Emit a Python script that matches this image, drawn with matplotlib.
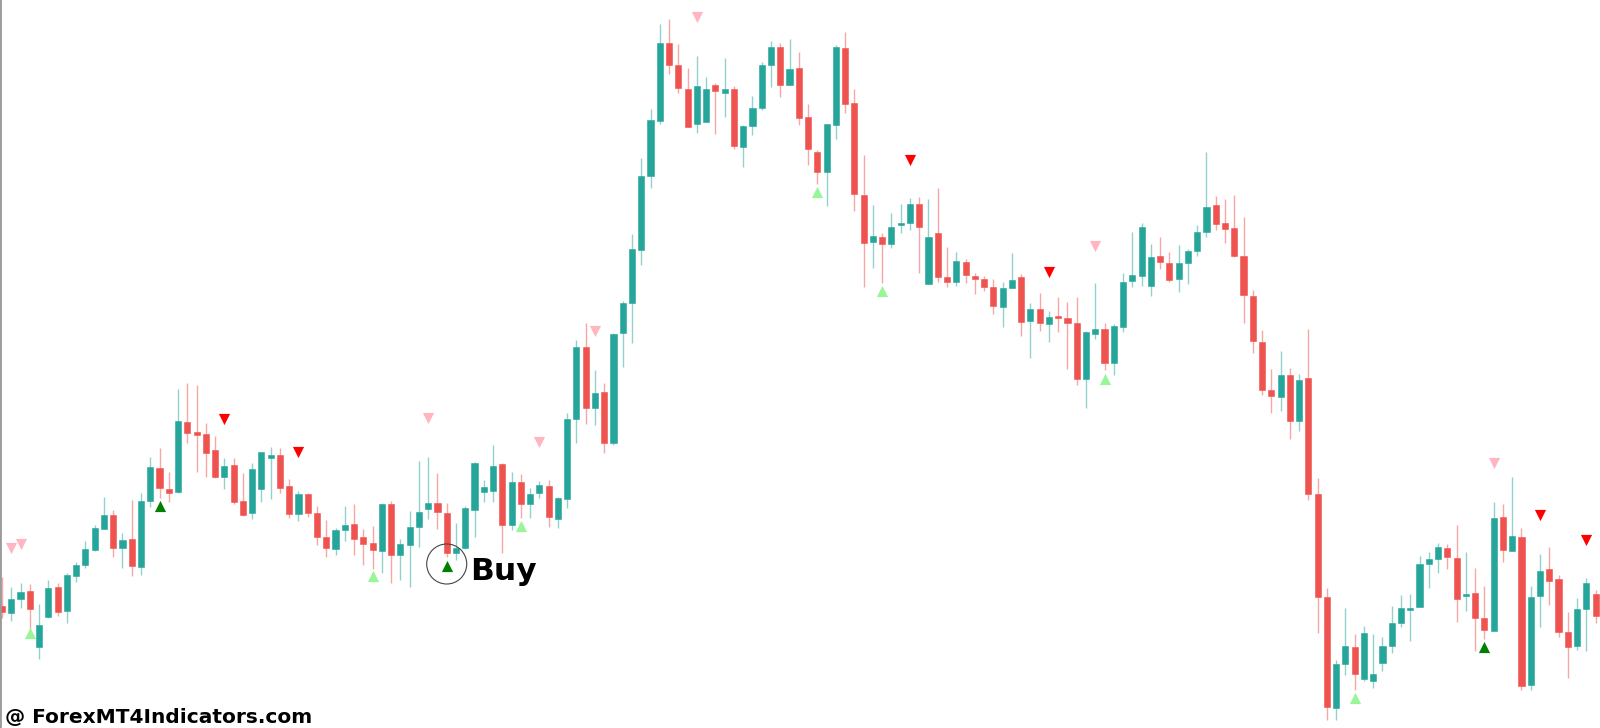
import numpy as np
import matplotlib
matplotlib.use("Agg")
import matplotlib.pyplot as plt

opens = [606, 613, 599, 591, 647, 617, 587, 611, 576, 565, 550, 529, 515, 548, 539, 567, 501, 468, 489, 492,
         422, 432, 434, 450, 477, 465, 501, 513, 489, 458, 455, 486, 514, 494, 513, 537, 549, 530, 524, 537,
         543, 551, 504, 555, 545, 527, 509, 503, 513, 553, 548, 510, 492, 491, 464, 525, 482, 504, 493, 486,
         519, 499, 419, 347, 408, 392, 443, 333, 303, 250, 176, 121, 43, 65, 89, 124, 122, 85, 93, 89,
         147, 126, 108, 65, 47, 85, 68, 117, 152, 172, 125, 48, 103, 195, 242, 237, 244, 225, 223, 204,
         284, 233, 277, 282, 262, 276, 279, 287, 307, 288, 277, 321, 309, 324, 316, 318, 323, 379, 334, 329,
         363, 327, 281, 276, 286, 256, 263, 279, 263, 251, 232, 205, 223, 228, 256, 296, 342, 390, 397, 375,
         421, 378, 494, 597, 708, 664, 647, 679, 681, 663, 646, 623, 609, 607, 564, 559, 548, 558, 595, 593,
         618, 631, 517, 551, 537, 685, 596, 569, 579, 632, 646, 609, 594]
highs = [577, 587, 583, 584, 604, 580, 583, 573, 562, 541, 525, 497, 510, 533, 500, 493, 457, 448, 472, 389,
         383, 385, 423, 436, 458, 458, 473, 463, 452, 447, 448, 479, 491, 493, 506, 520, 528, 506, 504, 529,
         526, 503, 501, 539, 511, 461, 457, 473, 503, 523, 506, 462, 480, 445, 463, 472, 474, 488, 481, 480,
         497, 413, 340, 323, 370, 383, 333, 301, 234, 158, 109, 24, 19, 44, 68, 56, 77, 83, 58, 86,
         125, 96, 62, 41, 43, 39, 52, 104, 150, 124, 45, 32, 89, 155, 205, 233, 213, 204, 198, 197,
         199, 188, 247, 252, 259, 273, 276, 279, 282, 253, 274, 303, 293, 311, 297, 302, 297, 331, 283, 323,
         324, 273, 232, 223, 244, 237, 252, 245, 249, 225, 152, 196, 199, 195, 217, 290, 330, 369, 351, 368,
         374, 329, 478, 588, 660, 608, 634, 626, 634, 637, 606, 595, 594, 556, 552, 543, 544, 525, 552, 568,
         586, 502, 504, 477, 528, 586, 554, 547, 575, 612, 598, 578, 590]
lows = [618, 621, 608, 629, 659, 618, 616, 623, 582, 568, 551, 529, 557, 568, 576, 575, 507, 498, 502, 493,
        443, 472, 477, 478, 489, 504, 516, 519, 502, 499, 493, 518, 521, 517, 545, 557, 555, 541, 555, 565,
        569, 573, 583, 580, 587, 547, 519, 529, 557, 560, 549, 537, 502, 502, 553, 530, 518, 518, 498, 527,
        528, 508, 443, 424, 425, 453, 445, 367, 343, 265, 188, 124, 74, 93, 127, 133, 122, 134, 117, 149,
        167, 135, 110, 87, 97, 85, 125, 165, 184, 206, 139, 113, 211, 287, 268, 283, 248, 233, 230, 273,
        284, 282, 287, 286, 283, 294, 291, 314, 327, 288, 336, 358, 331, 342, 332, 369, 385, 408, 339, 370,
        375, 332, 287, 286, 296, 269, 282, 292, 284, 256, 237, 230, 243, 257, 323, 353, 395, 413, 411, 439,
        431, 500, 633, 720, 720, 675, 690, 681, 688, 671, 653, 627, 641, 607, 588, 573, 569, 622, 611, 651,
        639, 631, 562, 551, 690, 690, 627, 605, 637, 678, 650, 651, 623]
closes = [612, 599, 592, 609, 625, 588, 612, 575, 565, 549, 528, 515, 548, 540, 566, 501, 467, 488, 493, 421,
          433, 435, 453, 477, 466, 502, 515, 469, 452, 455, 488, 514, 494, 513, 537, 548, 530, 525, 539, 544,
          550, 504, 555, 544, 527, 512, 503, 512, 553, 548, 508, 463, 487, 466, 525, 482, 504, 494, 485, 517,
          498, 419, 347, 408, 393, 443, 334, 303, 249, 176, 120, 43, 65, 88, 127, 86, 89, 91, 89, 146,
          126, 108, 65, 47, 85, 69, 118, 149, 172, 124, 47, 104, 194, 243, 236, 244, 227, 223, 204, 227,
          237, 277, 282, 261, 275, 279, 287, 306, 288, 280, 322, 309, 323, 317, 318, 323, 379, 332, 329, 363,
          326, 282, 275, 227, 257, 262, 280, 263, 251, 232, 207, 224, 229, 256, 295, 341, 390, 396, 375, 421,
          380, 494, 597, 707, 664, 646, 674, 633, 674, 646, 623, 608, 608, 564, 559, 547, 557, 599, 594, 618,
          630, 518, 550, 536, 686, 597, 571, 581, 632, 647, 609, 583, 616]

# signal arrows: candle index, level, kind
arrow_idx = [1, 2, 3, 17, 24, 32, 40, 46, 48, 56, 58, 64, 75, 88, 95, 98, 113, 118, 119, 146, 160, 161, 166, 171]
arrow_lvl = [548, 544, 633, 506, 419, 452, 576, 418, 566, 526, 442, 331, 17, 192, 291, 160, 272, 246, 379, 698,
             647, 463, 515, 540]
arrow_kind = ["sell_weak", "sell_weak", "buy_weak", "buy", "sell", "sell", "buy_weak", "sell_weak", "buy",
              "buy_weak", "sell_weak", "sell_weak", "sell_weak", "buy_weak", "buy_weak", "sell", "sell",
              "sell_weak", "buy_weak", "buy_weak", "buy", "sell_weak", "sell", "sell"]
buy_label_idx = 48

UP = "#26a69a"
DOWN = "#ef5350"
arrow_style = {
    "buy": ("^", "#008000"),
    "buy_weak": ("^", "#98f598"),
    "sell": ("v", "#ff0000"),
    "sell_weak": ("v", "#ffb6c1"),
}

o = np.array(opens); h = np.array(highs); l = np.array(lows); c = np.array(closes)
x = np.arange(len(o))
bull = c < o
col = np.where(bull, UP, DOWN)

fig = plt.figure(figsize=(16, 7.28), dpi=100)
ax = fig.add_axes([0, 0, 1, 1])
step = 9.265
ax.set_xlim(-2 / step, (1600 - 2) / step)
ax.set_ylim(728, 0)

# wicks
ax.vlines(x, h, l, colors=col, linewidth=1.0, alpha=0.5, zorder=1)
# bodies
top = np.minimum(o, c)
height = np.abs(o - c)
height = np.maximum(height, 1.5)
ax.bar(x, height, bottom=top, width=0.66, color=col, edgecolor=col, linewidth=0.4, zorder=2)

for i, lv, k in zip(arrow_idx, arrow_lvl, arrow_kind):
    m, cc = arrow_style[k]
    ax.scatter([i], [lv], marker=m, s=65, color=cc, linewidths=0, zorder=3)

# circled buy signal
j = arrow_idx.index(buy_label_idx)
ax.scatter([buy_label_idx], [arrow_lvl[j] - 2], marker="o", s=830, facecolors="none",
           edgecolors="#444444", linewidths=0.8, zorder=4)
ax.annotate("Buy", xy=(buy_label_idx, arrow_lvl[j]), xytext=(23, -14), textcoords="offset pixels",
            fontsize=22.5, fontweight="bold", family="DejaVu Sans", color="black",
            ha="left", va="baseline", zorder=5)

for s in ["top", "right", "bottom"]:
    ax.spines[s].set_visible(False)
ax.spines["left"].set_color("#9a9a9a")
ax.spines["left"].set_linewidth(2)
ax.set_xticks([]); ax.set_yticks([])

fig.text(5 / 1600, 5 / 728, "@ ForexMT4Indicators.com", fontsize=14.5, fontweight="bold",
         family="DejaVu Sans", color="black", ha="left", va="baseline")

fig.savefig("out.png", dpi=100, facecolor="white")
